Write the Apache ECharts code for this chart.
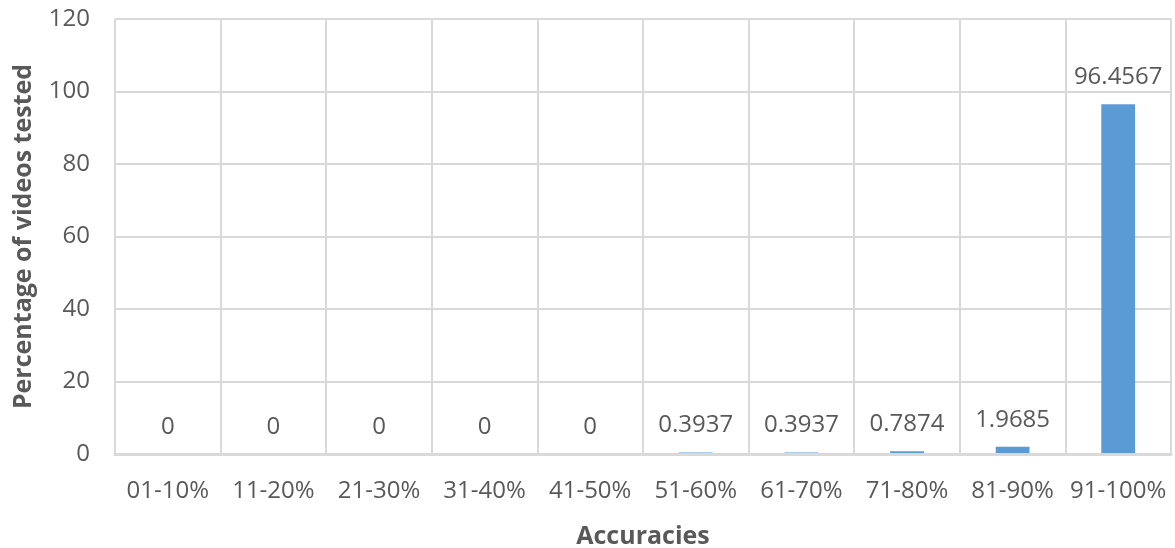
<!DOCTYPE html>
<html>
<head>
<meta charset="utf-8">
<script src="https://cdn.jsdelivr.net/npm/echarts@6/dist/echarts.min.js"></script>
<style>
  html, body { margin: 0; padding: 0; background: #ffffff; }
  #chart { width: 1175px; height: 548px; }
</style>
</head>
<body>
<div id="chart"></div>
<script>
// Accuracy bands and share of tested videos falling in each band
const categories = ['01-10%', '11-20%', '21-30%', '31-40%', '41-50%', '51-60%', '61-70%', '71-80%', '81-90%', '91-100%'];
const percentages = [0, 0, 0, 0, 0, 0.3937, 0.3937, 0.7874, 1.9685, 96.4567];
const yTicks = [0, 20, 40, 60, 80, 100, 120];

const textColor = '#595959';
const gridColor = '#d9d9d9';
const fontFamily = '"Open Sans", sans-serif';

const chart = echarts.init(document.getElementById('chart'), null, { renderer: 'canvas' });

chart.setOption({
  animation: false,
  backgroundColor: '#ffffff',
  grid: { left: 115, right: 4, top: 19, bottom: 94, containLabel: false, outerBoundsMode: 'none' },
  xAxis: {
    type: 'category',
    data: categories,
    boundaryGap: true,
    z: 5,
    name: 'Accuracies',
    nameLocation: 'middle',
    nameGap: 70,
    nameTextStyle: { color: textColor, fontSize: 25, fontWeight: 'bold', fontFamily: fontFamily },
    axisLine: { show: true, lineStyle: { color: gridColor, width: 3 } },
    axisTick: { show: false },
    axisLabel: { color: textColor, fontSize: 24, fontFamily: fontFamily, margin: 25, interval: 0 },
    splitLine: { show: true, interval: 0, lineStyle: { color: gridColor, width: 2 } }
  },
  yAxis: {
    type: 'value',
    min: yTicks[0],
    max: yTicks[yTicks.length - 1],
    interval: yTicks[1] - yTicks[0],
    name: 'Percentage of videos tested',
    nameLocation: 'middle',
    nameGap: 79,
    nameTextStyle: { color: textColor, fontSize: 25, fontWeight: 'bold', fontFamily: fontFamily },
    axisLine: { show: false },
    axisTick: { show: false },
    axisLabel: { color: textColor, fontSize: 24, fontFamily: fontFamily, margin: 25 },
    splitLine: { show: true, lineStyle: { color: gridColor, width: 2 } }
  },
  series: [{
    type: 'bar',
    data: percentages,
    barWidth: '32%',
    itemStyle: { color: '#5b9bd5' },
    label: {
      show: true,
      position: 'top',
      distance: 15,
      color: textColor,
      fontSize: 24,
      fontFamily: fontFamily,
      formatter: p => String(p.value)
    }
  }]
});
</script>
</body>
</html>
